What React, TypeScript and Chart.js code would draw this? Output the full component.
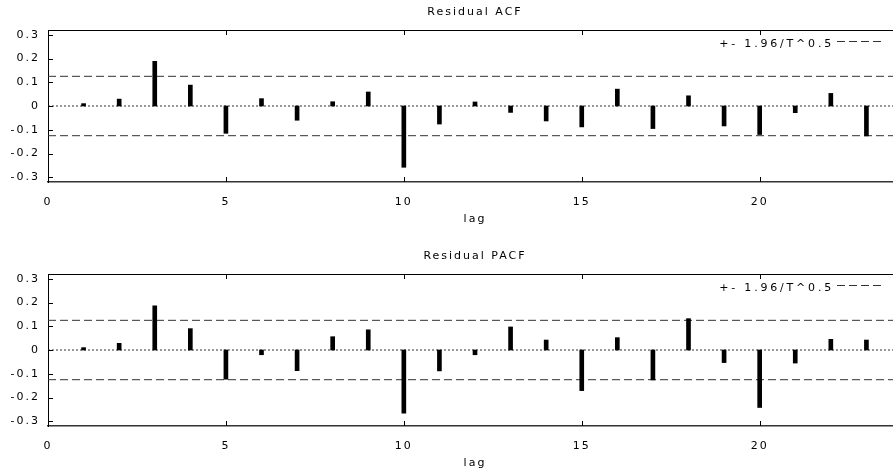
import React, { useEffect, useRef } from 'react';
import { Chart, registerables } from 'chart.js';

Chart.register(...registerables);

const lags = [1, 2, 3, 4, 5, 6, 7, 8, 9, 10, 11, 12, 13, 14, 15, 16, 17, 18, 19, 20, 21, 22, 23];
const acfValues = [0.010, 0.029, 0.188, 0.088, -0.115, 0.031, -0.060, 0.018, 0.059, -0.258, -0.076, 0.017, -0.027, -0.063, -0.088, 0.071, -0.095, 0.043, -0.084, -0.120, -0.028, 0.053, -0.126];
const pacfValues = [0.010, 0.028, 0.186, 0.090, -0.123, -0.020, -0.087, 0.056, 0.085, -0.266, -0.088, -0.020, 0.097, 0.042, -0.171, 0.052, -0.126, 0.132, -0.053, -0.242, -0.055, 0.045, 0.042];
const bound = 0.125;
const yTicks = [-0.3, -0.2, -0.1, 0, 0.1, 0.2, 0.3];
const yTickLabels = ['-0.3', '-0.2', '-0.1', '0', '0.1', '0.2', '0.3'];
const xTicks = [0, 5, 10, 15, 20];
const xTickLabels = ['0', '5', '10', '15', '20'];
const xMin = 0;
const xMax = 24;
const yMin = -0.32;
const yMax = 0.32;
const titles = ['Residual ACF', 'Residual PACF'];
const axisLabel = 'lag';
const legendLabel = '+- 1.96/T^0.5';

const FONT = 'DejaVu Sans';
const SPACING = '2px';

const spacingPlugin = {
  id: 'spacing',
  beforeLayout(chart: any) { (chart.ctx as any).letterSpacing = SPACING; },
  beforeDraw(chart: any) { (chart.ctx as any).letterSpacing = SPACING; },
};

const framePlugin = {
  id: 'frame',
  afterDraw(chart: any) {
    const ctx: CanvasRenderingContext2D = chart.ctx;
    const area = chart.chartArea;
    const xs = chart.scales.x;
    const ys = chart.scales.y;
    const L = Math.round(area.left);
    const T = Math.round(area.top);
    const B = Math.round(area.bottom);
    const R = Math.round(area.right);
    ctx.save();
    ctx.fillStyle = '#000';
    // top border
    ctx.fillRect(L, T, R - L, 1);
    // inward ticks on the left axis
    for (const v of yTicks) {
      const y = Math.round(ys.getPixelForValue(v));
      ctx.fillRect(L, y, 5, 1);
    }
    // inward ticks on bottom and top
    for (const v of xTicks) {
      const x = Math.round(xs.getPixelForValue(v));
      ctx.fillRect(x, B - 5, 1, 5);
      ctx.fillRect(x, T, 1, 5);
    }
    ctx.restore();

    ctx.save();
    const ly = T + 14;
    ctx.font = `11px "${FONT}"`;
    (ctx as any).letterSpacing = '2.8px';
    ctx.fillStyle = '#000';
    ctx.textAlign = 'right';
    ctx.textBaseline = 'middle';
    ctx.fillText(legendLabel, R - 68, ly);
    ctx.setLineDash([8, 4]);
    ctx.lineWidth = 1;
    ctx.strokeStyle = '#333';
    ctx.beginPath();
    ctx.moveTo(R - 65, ly - 2.5);
    ctx.lineTo(R - 17, ly - 2.5);
    ctx.stroke();
    ctx.restore();
  },
};

function makeConfig(title: string, values: number[]): any {
  const lineDs = (y: number, dash: number[]) => ({
    type: 'line',
    data: [{ x: xMin, y }, { x: xMax, y }],
    borderColor: '#333',
    borderWidth: 1,
    borderDash: dash,
    pointRadius: 0,
    order: 1,
  });
  return {
    type: 'bar',
    data: {
      datasets: [
        {
          type: 'bar',
          data: lags.map((l, i) => ({ x: l, y: values[i] })),
          backgroundColor: '#000',
          borderWidth: 0,
          barThickness: 4,
          order: 0,
        },
        lineDs(bound, [8, 4]),
        lineDs(-bound, [8, 4]),
        lineDs(0, [2, 2]),
      ],
    },
    options: {
      animation: false,
      responsive: false,
      maintainAspectRatio: false,
      layout: { padding: { left: 0, right: 48, top: 0, bottom: 0 } },
      plugins: {
        legend: { display: false },
        tooltip: { enabled: false },
        title: {
          display: true,
          fullSize: false,
          text: title,
          color: '#000',
          font: { family: FONT, size: 11, weight: 'normal' },
          padding: { top: 6, bottom: 10.8 },
        },
      },
      scales: {
        x: {
          type: 'linear',
          min: xMin,
          max: xMax,
          offset: false,
          grid: { display: false, drawTicks: false, offset: false },
          border: { display: true, color: '#333', width: 1.5 },
          afterBuildTicks: (s: any) => { s.ticks = xTicks.map((v) => ({ value: v })); },
          afterFit: (s: any) => { s.height = 62; },
          ticks: {
            color: '#000',
            font: { family: FONT, size: 11 },
            padding: 14,
            maxRotation: 0,
            autoSkip: false,
            callback: (_v: any, i: number) => xTickLabels[i],
          },
          title: {
            display: true,
            text: axisLabel,
            color: '#000',
            font: { family: FONT, size: 11 },
            padding: { top: 0, bottom: 18 },
          },
        },
        y: {
          type: 'linear',
          min: yMin,
          max: yMax,
          grid: { display: false, drawTicks: false },
          border: { display: true, color: '#000', width: 1 },
          afterBuildTicks: (s: any) => { s.ticks = yTicks.map((v) => ({ value: v })); },
          afterFit: (s: any) => { s.width = 48; },
          ticks: {
            color: '#000',
            font: { family: FONT, size: 11 },
            padding: 8,
            autoSkip: false,
            callback: (_v: any, i: number) => yTickLabels[i],
          },
        },
      },
    },
    plugins: [spacingPlugin, framePlugin],
  };
}

function AcfChart({ title, values, top }: { title: string; values: number[]; top: number }) {
  const ref = useRef<HTMLCanvasElement>(null);
  useEffect(() => {
    if (!ref.current) return;
    const chart = new Chart(ref.current, makeConfig(title, values));
    return () => chart.destroy();
  }, [title, values]);
  return (
    <canvas
      ref={ref}
      width={950}
      height={244}
      style={{ position: 'absolute', left: 0, top, width: 950, height: 244 }}
    />
  );
}

export default function App() {
  return (
    <div
      style={{
        position: 'fixed',
        left: 0,
        top: 0,
        width: 893,
        height: 470,
        overflow: 'hidden',
        background: '#fff',
      }}
    >
      <AcfChart title={titles[0]} values={acfValues} top={0} />
      <AcfChart title={titles[1]} values={pacfValues} top={244} />
    </div>
  );
}
